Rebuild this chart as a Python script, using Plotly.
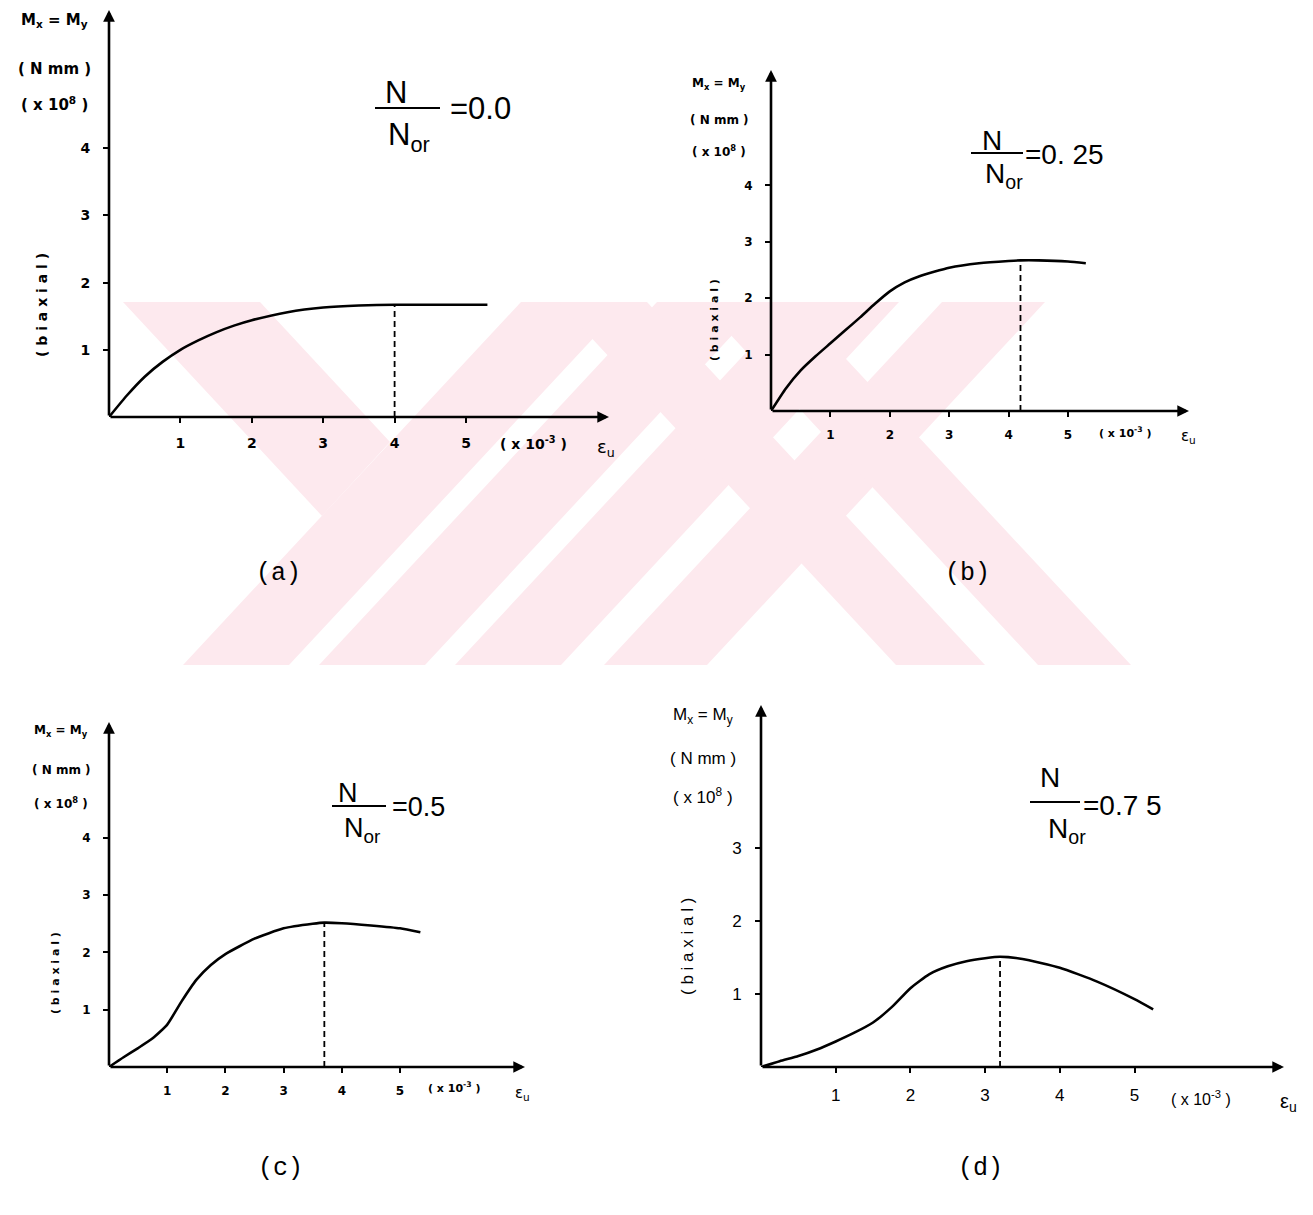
import plotly.graph_objects as go

# ---------------- data ----------------
eps_a = [0, 0.25, 0.5, 0.75, 1.0, 1.25, 1.5, 1.75, 2.0, 2.5, 3.0, 3.5, 4.0, 4.5, 5.0, 5.3]
m_a = [0, 0.32, 0.60, 0.82, 1.0, 1.14, 1.26, 1.36, 1.44, 1.56, 1.63, 1.66, 1.67, 1.67, 1.67, 1.67]
peak_a = [4.0, 1.67]

eps_b = [0, 0.25, 0.5, 0.75, 1.0, 1.25, 1.5, 1.75, 2.0, 2.25, 2.5, 3.0, 3.5, 4.0, 4.2, 4.5, 5.0, 5.3]
m_b = [0, 0.40, 0.72, 0.97, 1.20, 1.43, 1.66, 1.90, 2.12, 2.28, 2.39, 2.54, 2.62, 2.66, 2.67, 2.67, 2.65, 2.62]
peak_b = [4.2, 2.67]

eps_c = [0, 0.25, 0.5, 0.75, 1.0, 1.25, 1.5, 1.75, 2.0, 2.5, 3.0, 3.5, 3.7, 4.0, 4.5, 5.0, 5.35]
m_c = [0, 0.17, 0.33, 0.50, 0.74, 1.15, 1.52, 1.78, 1.97, 2.24, 2.42, 2.50, 2.52, 2.51, 2.47, 2.42, 2.35]
peak_c = [3.7, 2.52]

eps_d = [0, 0.25, 0.5, 0.75, 1.0, 1.25, 1.5, 1.75, 2.0, 2.25, 2.5, 2.75, 3.0, 3.2, 3.5, 4.0, 4.5, 5.0, 5.25]
m_d = [0, 0.08, 0.15, 0.24, 0.35, 0.47, 0.61, 0.82, 1.08, 1.27, 1.38, 1.45, 1.49, 1.51, 1.48, 1.36, 1.17, 0.93, 0.79]
peak_d = [3.2, 1.51]

x_ticks = [1, 2, 3, 4, 5]
y_ticks_abc = [1, 2, 3, 4]
y_ticks_d = [1, 2, 3]
ratio_labels = ["=0.0", "=0. 25", "=0.5", "=0.7 5"]
captions = ["(a)", "(b)", "(c)", "(d)"]

# ---------------- page geometry (pixels) ----------------
W, H = 1313, 1215


def px(x):
    return x / W


def py(y):
    return 1 - y / H


SANS = "DejaVu Sans"
HELV = "Liberation Sans"
MONO = "Liberation Mono"
PINK = "rgb(253,233,238)"
SP = "&nbsp;"

panels = [
    dict(eps=eps_a, m=m_a, peak=peak_a, yt_vals=y_ticks_abc,
         ox=109, oy=417, ux=71.4, uy=67.2, xe=609, yt=10,
         tick_size=14, tick_font=SANS, tick_w=700, lab_size=15, lab_font=SANS, lab_w="b",
         ylab_x=54, ylab_y=[21, 69, 104], biax=(42, 305, 14),
         xlab=(533, 443), eps_lab=(606, 448, 18),
         N=(396, 92), bar=(375, 440, 108), Nor=(409, 137), eq=(448, 108), fsize=31,
         cap=(278, 573)),
    dict(eps=eps_b, m=m_b, peak=peak_b, yt_vals=y_ticks_abc,
         ox=771, oy=411, ux=59.4, uy=56.4, xe=1189, yt=70,
         tick_size=12, tick_font=SANS, tick_w=700, lab_size=12, lab_font=SANS, lab_w="b",
         ylab_x=719, ylab_y=[84, 120, 151], biax=(714, 320, 11),
         xlab=(1125, 432), eps_lab=(1188, 436, 15),
         N=(992, 140), bar=(971, 1023, 153), Nor=(1004, 175), eq=(1023, 155), fsize=28,
         cap=(967, 573)),
    dict(eps=eps_c, m=m_c, peak=peak_c, yt_vals=y_ticks_abc,
         ox=109, oy=1067, ux=58.2, uy=57.3, xe=525, yt=722,
         tick_size=12, tick_font=SANS, tick_w=700, lab_size=12, lab_font=SANS, lab_w="b",
         ylab_x=61, ylab_y=[731, 770, 803], biax=(55, 973, 11),
         xlab=(455, 1087), eps_lab=(522, 1093, 15),
         N=(348, 793), bar=(332, 386, 806), Nor=(362, 830), eq=(390, 807), fsize=27,
         cap=(280, 1168)),
    dict(eps=eps_d, m=m_d, peak=peak_d, yt_vals=y_ticks_d,
         ox=761, oy=1067, ux=74.7, uy=73.0, xe=1284, yt=705,
         tick_size=17, tick_font=HELV, tick_w=400, lab_size=17, lab_font=HELV, lab_w="",
         ylab_x=703, ylab_y=[716, 758, 796], biax=(687, 947, 17),
         xlab=(1201, 1098), eps_lab=(1288, 1102, 20),
         N=(1050, 777), bar=(1030, 1080, 802), Nor=(1067, 830), eq=(1081, 805), fsize=28,
         cap=(980, 1168)),
]

fig = go.Figure()
annotations = []
shapes = []


def ann(text, x, y, size, family=SANS, xanchor="center", yanchor="middle", angle=0):
    return dict(text=text, x=px(x), y=py(y), xref="paper", yref="paper", showarrow=False,
                font=dict(size=size, family=family, color="black"),
                xanchor=xanchor, yanchor=yanchor, textangle=angle)


def bold(t, flag):
    return f"<b>{t}</b>" if flag else t


# ---------------- watermark (light pink) ----------------
wm_polys = [
    [(183, 665), (289, 665), (627, 302), (521, 302)],
    [(319, 665), (425, 665), (763, 302), (657, 302)],
    [(455, 665), (561, 665), (899, 302), (793, 302)],
    [(604, 665), (707, 665), (1045, 302), (942, 302)],
    [(896, 665), (985, 665), (647, 302), (558, 302)],
    [(1038, 665), (1131, 665), (793, 302), (700, 302)],
    [(123, 302), (260, 302), (390, 442), (322, 516)],
]
for poly in wm_polys:
    path = "M " + " L ".join(f"{px(x):.5f},{py(y):.5f}" for x, y in poly) + " Z"
    shapes.append(dict(type="path", path=path, xref="paper", yref="paper",
                       fillcolor=PINK, line=dict(width=0), layer="below"))

for i, p in enumerate(panels):
    n = i + 1
    xa = "x" if n == 1 else f"x{n}"
    ya = "y" if n == 1 else f"y{n}"
    xmax = (p["xe"] - p["ox"]) / p["ux"]
    ymax = (p["oy"] - p["yt"]) / p["uy"]

    # curve
    fig.add_trace(go.Scatter(x=p["eps"], y=p["m"], mode="lines", xaxis=xa, yaxis=ya,
                             line=dict(color="black", width=2.6, shape="spline", smoothing=0.5),
                             showlegend=False, hoverinfo="skip"))
    # dashed ultimate line
    fig.add_trace(go.Scatter(x=[p["peak"][0], p["peak"][0]], y=[0, p["peak"][1]], mode="lines",
                             xaxis=xa, yaxis=ya,
                             line=dict(color="black", width=1.8, dash="6px,4px"),
                             showlegend=False, hoverinfo="skip"))

    tickfont = dict(size=p["tick_size"], family=p["tick_font"], color="black", weight=p["tick_w"])
    xdom = [px(p["ox"]), px(p["xe"])]
    ydom = [py(p["oy"]), py(p["yt"])]
    axis_common = dict(showgrid=False, zeroline=False, showline=False, ticks="outside",
                       ticklen=5, tickwidth=2, tickcolor="black", tickfont=tickfont,
                       fixedrange=True)
    fig.layout[("xaxis" if n == 1 else f"xaxis{n}")] = dict(
        domain=xdom, range=[0, xmax], anchor=ya, tickvals=x_ticks,
        ticklabelstandoff=8, **axis_common)
    fig.layout[("yaxis" if n == 1 else f"yaxis{n}")] = dict(
        domain=ydom, range=[0, ymax], anchor=xa, tickvals=p["yt_vals"],
        ticklabelstandoff=10, **axis_common)

    # axes with arrow heads
    annotations.append(dict(x=xmax, y=0, ax=0, ay=0, xref=xa, yref=ya, axref=xa, ayref=ya,
                            showarrow=True, arrowhead=2, arrowsize=0.9, arrowwidth=2.6,
                            arrowcolor="black", text=""))
    annotations.append(dict(x=0, y=ymax, ax=0, ay=0, xref=xa, yref=ya, axref=xa, ayref=ya,
                            showarrow=True, arrowhead=2, arrowsize=0.9, arrowwidth=2.6,
                            arrowcolor="black", text=""))

    b = p["lab_w"] == "b"
    ls = p["lab_size"]
    lf = p["lab_font"]
    annotations.append(ann(bold(f"M<sub>x</sub>{SP}={SP}M<sub>y</sub>", b), p["ylab_x"], p["ylab_y"][0], ls, lf))
    annotations.append(ann(bold(f"({SP}N{SP}mm{SP})", b), p["ylab_x"], p["ylab_y"][1], ls, lf))
    annotations.append(ann(bold(f"({SP}x{SP}10<sup>8</sup>{SP})", b), p["ylab_x"], p["ylab_y"][2], ls, lf))
    bx, by, bs = p["biax"]
    annotations.append(ann(bold("( b i a x i a l )", b), bx, by, bs, lf, angle=-90))
    annotations.append(ann(bold(f"({SP}x{SP}10<sup>-3</sup>{SP})", b), p["xlab"][0], p["xlab"][1], ls - 1, lf))
    ex, ey, es = p["eps_lab"]
    annotations.append(ann("ε<sub>u</sub>", ex, ey, es, lf))

    # N / N_or ratio
    fs = p["fsize"]
    annotations.append(ann("N", p["N"][0], p["N"][1], fs, HELV))
    annotations.append(ann("N<sub>or</sub>", p["Nor"][0], p["Nor"][1], fs, HELV))
    annotations.append(ann(ratio_labels[i], p["eq"][0], p["eq"][1], fs, HELV, xanchor="left"))
    x0, x1, yb = p["bar"]
    shapes.append(dict(type="line", xref="paper", yref="paper", x0=px(x0), x1=px(x1),
                       y0=py(yb), y1=py(yb), line=dict(color="black", width=2)))

    # caption
    annotations.append(ann(captions[i], p["cap"][0], p["cap"][1], 25, MONO))

fig.update_layout(
    width=W, height=H, margin=dict(l=0, r=0, t=0, b=0),
    paper_bgcolor="white", plot_bgcolor="rgba(0,0,0,0)",
    annotations=annotations, shapes=shapes, showlegend=False,
)

fig.write_html("out.html", include_plotlyjs=True,
               config={"displayModeBar": False},
               post_script="document.body.style.margin='0';document.body.style.overflow='hidden';")
